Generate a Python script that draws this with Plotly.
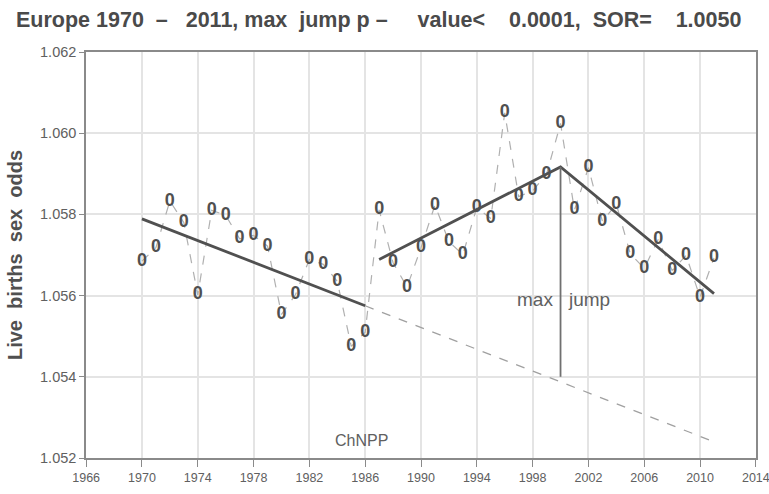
import plotly.graph_objects as go

years = list(range(1970, 2012))
odds = [1.05685, 1.05718, 1.05833, 1.05780, 1.05602, 1.05810, 1.05798, 1.05740,
        1.05748, 1.05722, 1.05554, 1.05602, 1.05689, 1.05677, 1.05635, 1.05475,
        1.05510, 1.05811, 1.05681, 1.05621, 1.05718, 1.05823, 1.05733, 1.05701,
        1.05817, 1.05790, 1.06050, 1.05844, 1.05858, 1.05899, 1.06024, 1.05811,
        1.05915, 1.05783, 1.05825, 1.05703, 1.05667, 1.05738, 1.05662, 1.05699,
        1.05596, 1.05693]

fit1_x = [1970, 1986]
fit1_y = [1.05789, 1.05575]
ext_x = [1986, 2011]
ext_y = [1.05575, 1.05240]
fit2_x = [1987, 2000, 2011]
fit2_y = [1.05689, 1.05917, 1.05605]
jump_x = [2000, 2000]
jump_y = [1.05917, 1.05400]

x_ticks = list(range(1966, 2015, 4))
y_ticks = [1.052, 1.054, 1.056, 1.058, 1.060, 1.062]

grey = "#505050"
font = "Liberation Sans, Arial, sans-serif"
sp = "&nbsp;"

title_text = ("<b>Europe" + sp + "1970" + sp * 2 + "–" + sp * 3 + "2011," + sp + "max" + sp * 2 +
              "jump" + sp + "p" + sp + "–" + sp * 5 + "value&lt;" + sp * 4 + "0.0001," + sp * 2 +
              "SOR=" + sp * 4 + "1.0050</b>")

fig = go.Figure()
fig.add_trace(go.Scatter(x=years, y=odds, mode="lines", line=dict(color="#b0b0b0", width=1.2, dash="dash"),
                         showlegend=False, hoverinfo="skip"))
fig.add_trace(go.Scatter(x=ext_x, y=ext_y, mode="lines", line=dict(color="#a0a0a0", width=1.3, dash="dash"),
                         showlegend=False))
fig.add_trace(go.Scatter(x=fit1_x, y=fit1_y, mode="lines", line=dict(color=grey, width=2.8), showlegend=False))
fig.add_trace(go.Scatter(x=fit2_x, y=fit2_y, mode="lines", line=dict(color=grey, width=2.8), showlegend=False))
fig.add_trace(go.Scatter(x=jump_x, y=jump_y, mode="lines", line=dict(color="#707070", width=1.8), showlegend=False))
fig.add_trace(go.Scatter(x=years, y=odds, mode="text", text=["<b>0</b>"] * len(years),
                         textfont=dict(family=font, size=18, color="#505050"),
                         textposition="middle center", showlegend=False))

fig.add_annotation(x=2000, y=1.0559, text="max", showarrow=False, xanchor="right", xshift=-6,
                   font=dict(family=font, size=19, color="#606060"))
fig.add_annotation(x=2000, y=1.0559, text="jump", showarrow=False, xanchor="left", xshift=5,
                   font=dict(family=font, size=19, color="#606060"))
fig.add_annotation(x=1985.7, y=1.05244, text="ChNPP", showarrow=False,
                   font=dict(family=font, size=16, color="#606060"))

fig.update_layout(
    width=769, height=494,
    margin=dict(l=86, r=13, t=52, b=36),
    paper_bgcolor="white", plot_bgcolor="white",
    title=dict(text=title_text, x=16 / 769, xanchor="left", y=0.960, yanchor="middle",
               font=dict(family=font, size=21.5, color="#4a4a4a")),
    xaxis=dict(range=[1965.99, 2014.01], tickvals=x_ticks, ticktext=[str(v) for v in x_ticks],
               showgrid=True, gridcolor="#e4e4e4", gridwidth=1.5, zeroline=False,
               showline=True, linecolor="#8a8a8a", linewidth=1.5, mirror=True,
               ticks="outside", ticklen=7, tickcolor="#8a8a8a", automargin=False,
               ticklabeloverflow="allow",
               tickfont=dict(family=font, size=12.5, color="#606060")),
    yaxis=dict(range=[1.052, 1.062], tickvals=y_ticks, ticktext=["%.3f" % v for v in y_ticks],
               showgrid=True, gridcolor="#e4e4e4", gridwidth=1.5, zeroline=False,
               showline=True, linecolor="#8a8a8a", linewidth=1.5, mirror=True,
               ticks="outside", ticklen=5, tickcolor="#8a8a8a", automargin=False,
               tickfont=dict(family=font, size=14.5, color="#606060"),
               title=dict(text="<b>Live" + sp * 2 + "births" + sp * 2 + "sex" + sp * 2 + "odds</b>", standoff=12,
                          font=dict(family=font, size=20, color="#505050"))),
)

fig.write_html("out.html", config={"displayModeBar": False},
               post_script="document.body.style.margin='0';document.body.style.overflow='hidden';")
